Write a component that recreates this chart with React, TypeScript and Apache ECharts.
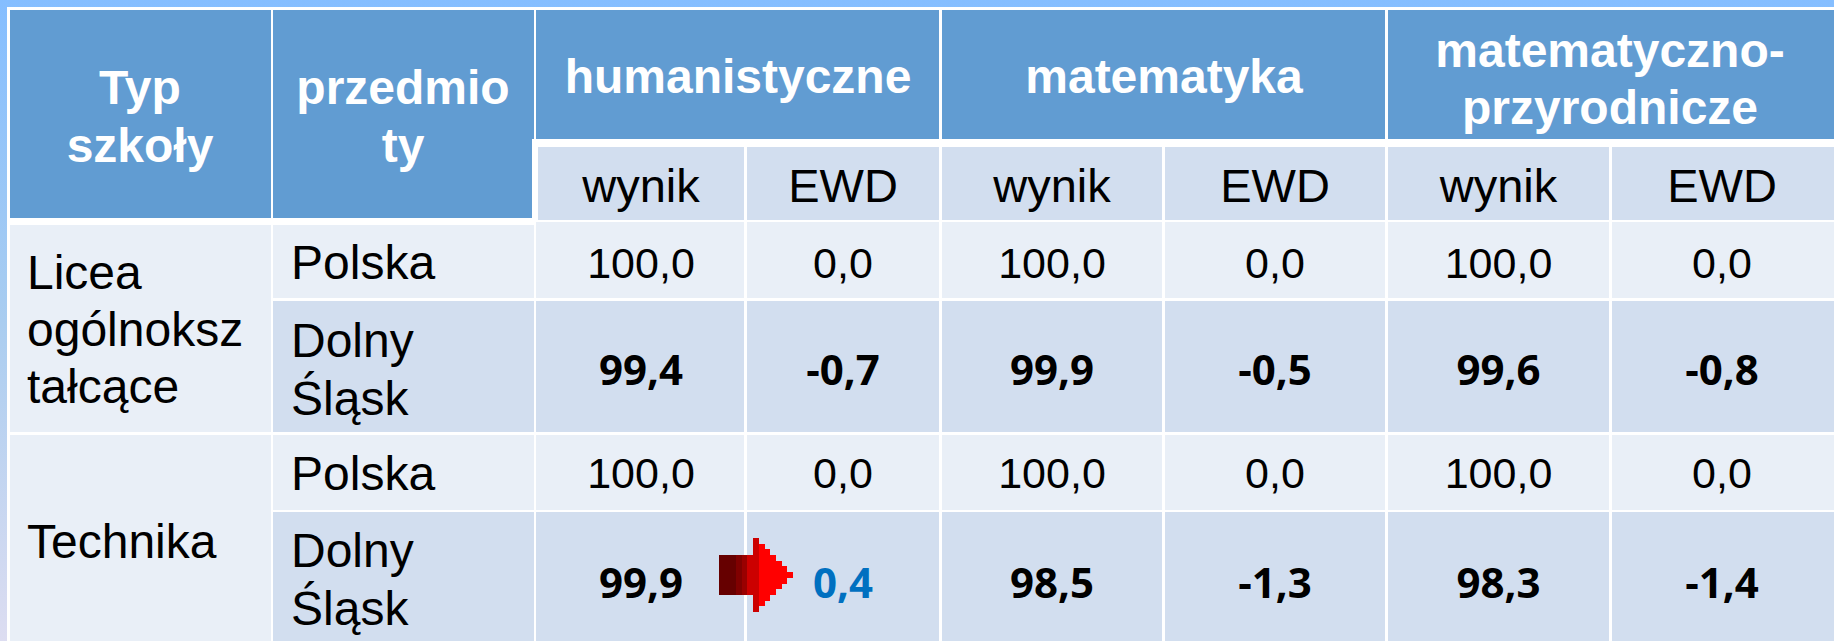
import React, { useEffect, useRef } from "react";
import * as echarts from "echarts";

const WIDTH = 1834;
const HEIGHT = 641;

// ---- content ----
const groupHeaders = [["humanistyczne"], ["matematyka"], ["matematyczno-", "przyrodnicze"]];
const subHeaders = ["wynik", "EWD", "wynik", "EWD", "wynik", "EWD"];
const headTyp = ["Typ", "szkoły"];
const headPrzedmioty = ["przedmio", "ty"];
const schoolLicea = ["Licea", "ogólnoksz", "tałcące"];
const schoolTechnika = ["Technika"];
const regionPolska = ["Polska"];
const regionSlask = ["Dolny", "Śląsk"];
const rowLiceaPolska = ["100,0", "0,0", "100,0", "0,0", "100,0", "0,0"];
const rowLiceaSlask = ["99,4", "-0,7", "99,9", "-0,5", "99,6", "-0,8"];
const rowTechnikaPolska = ["100,0", "0,0", "100,0", "0,0", "100,0", "0,0"];
const rowTechnikaSlask = ["99,9", "0,4", "98,5", "-1,3", "98,3", "-1,4"];

// ---- layout ----
const dataColLeft = [538, 747, 942, 1165, 1388, 1612];
const dataColRight = [744, 939, 1162, 1385, 1609, 1834];
const rowTop = [222, 301, 435, 512];
const rowBottom = [298, 432, 510, 641];
const rowCenter = [263, 368, 473, 581];
const regionLineY = [[262], [340, 398], [473], [550, 608]];

const C_HEAD = "#619CD2";
const C_DARK = "#D2DEEF";
const C_LIGHT = "#E9EFF7";
const C_BLUE = "#0070C0";
const SANS = '"Liberation Sans"';
const NUM_BOLD = '"Open Sans"';

type Cell = [number, number, number, number, string];
const cells: Cell[] = [
  [7, 7, WIDTH, HEIGHT, "#FFFFFF"],
  [10, 10, 271, 218, C_HEAD],
  [273, 10, 534, 139, C_HEAD],
  [273, 139, 532, 218, C_HEAD],
  [536, 10, 939, 139, C_HEAD],
  [942, 10, 1385, 139, C_HEAD],
  [1388, 10, WIDTH, 139, C_HEAD],
  [10, 225, 271, 432, C_LIGHT],
  [10, 435, 271, 641, C_LIGHT],
  [273, 225, 534, 298, C_LIGHT],
  [273, 301, 534, 432, C_DARK],
  [273, 435, 534, 510, C_LIGHT],
  [273, 512, 534, 641, C_DARK],
];
dataColLeft.forEach((l, i) => {
  cells.push([l, 147, dataColRight[i], 220, C_DARK]);
  rowTop.forEach((t, r) => {
    const x0 = i === 0 ? 536 : l;
    cells.push([x0, t, dataColRight[i], rowBottom[r], r % 2 === 0 ? C_LIGHT : C_DARK]);
  });
});

// stepped arrow strips: left, top, right, bottom, colour
const arrowStrips: Cell[] = [
  [719, 555, 736, 595, "#660000"],
  [736, 555, 742, 595, "#800000"],
  [742, 555, 747, 595, "#990000"],
  [747, 555, 753, 595, "#CC0000"],
  [753, 538, 759, 612, "#CC0000"],
  [759, 544, 765, 606, "#FF0000"],
  [765, 549, 770, 601, "#FF0000"],
  [770, 555, 776, 595, "#FF0000"],
  [776, 561, 782, 589, "#FF0000"],
  [782, 566, 787, 584, "#FF0000"],
  [787, 572, 793, 578, "#FF0000"],
];

type Label = [string, number, number, string, string, string];
const HB = `bold 48px ${SANS}`;
const REG = `48px ${SANS}`;
const SUB = `47px ${SANS}`;
const NUM = `43px ${SANS}`;
const BOLD = `bold 42px ${NUM_BOLD}`;

const labels: Label[] = [];
const center = (i: number) => (dataColLeft[i] + Math.min(dataColRight[i], 1832)) / 2;
headTyp.forEach((s, i) => labels.push([s, 140, 87 + i * 58, HB, "#FFFFFF", "center"]));
headPrzedmioty.forEach((s, i) => labels.push([s, 403, 87 + i * 58, HB, "#FFFFFF", "center"]));
groupHeaders[0].forEach((s) => labels.push([s, 738, 76, HB, "#FFFFFF", "center"]));
groupHeaders[1].forEach((s) => labels.push([s, 1164, 76, HB, "#FFFFFF", "center"]));
groupHeaders[2].forEach((s, i) => labels.push([s, 1610, 50 + i * 57, HB, "#FFFFFF", "center"]));
subHeaders.forEach((s, i) => labels.push([s, center(i), 185, SUB, "#000000", "center"]));
schoolLicea.forEach((s, i) => labels.push([s, 27, [272, 329, 386][i], REG, "#000000", "left"]));
schoolTechnika.forEach((s) => labels.push([s, 27, 541, REG, "#000000", "left"]));
[regionPolska, regionSlask, regionPolska, regionSlask].forEach((lines, r) =>
  lines.forEach((s, i) => labels.push([s, 291, regionLineY[r][i], REG, "#000000", "left"])),
);
[rowLiceaPolska, rowLiceaSlask, rowTechnikaPolska, rowTechnikaSlask].forEach((row, r) =>
  row.forEach((s, c) => {
    const blue = r === 3 && c === 1;
    labels.push([s, center(c), rowCenter[r], r % 2 === 0 ? NUM : BOLD, blue ? C_BLUE : "#000000", "center"]);
  }),
);

const rectSeries = (data: Cell[]) => ({
  type: "custom",
  coordinateSystem: "cartesian2d",
  silent: true,
  clip: false,
  data: data.map((d, i) => [d[0], d[1], i]),
  renderItem: (_: unknown, api: any) => {
    const d = data[api.value(2)];
    const a = api.coord([d[0], d[1]]);
    const b = api.coord([d[2], d[3]]);
    return {
      type: "rect",
      shape: { x: a[0], y: a[1], width: b[0] - a[0], height: b[1] - a[1] },
      style: { fill: d[4], stroke: "none" },
    };
  },
});

const textSeries = {
  type: "custom",
  coordinateSystem: "cartesian2d",
  silent: true,
  clip: false,
  data: labels.map((d, i) => [d[1], d[2], i]),
  renderItem: (_: unknown, api: any) => {
    const d = labels[api.value(2)];
    const p = api.coord([d[1], d[2]]);
    return {
      type: "text",
      x: p[0],
      y: p[1],
      style: { text: d[0], font: d[3], fill: d[4], align: d[5], verticalAlign: "middle" },
    };
  },
};

export default function App() {
  const ref = useRef<HTMLDivElement>(null);
  useEffect(() => {
    document.body.style.margin = "0";
    const chart = echarts.init(ref.current!, undefined, { renderer: "svg" });
    chart.setOption({
      animation: false,
      backgroundColor: new echarts.graphic.LinearGradient(0, 0, 0, 1, [
        { offset: 0, color: "#85BEFF" },
        { offset: 0.5, color: "#A9CDF0" },
        { offset: 1, color: "#DDDDF1" },
      ]),
      grid: { left: 0, right: 0, top: 0, bottom: 0 },
      xAxis: { type: "value", min: 0, max: WIDTH, show: false },
      yAxis: { type: "value", min: 0, max: HEIGHT, inverse: true, show: false },
      series: [rectSeries(cells), rectSeries(arrowStrips), textSeries],
    });
    return () => chart.dispose();
  }, []);
  return <div ref={ref} style={{ width: WIDTH, height: HEIGHT }} />;
}
